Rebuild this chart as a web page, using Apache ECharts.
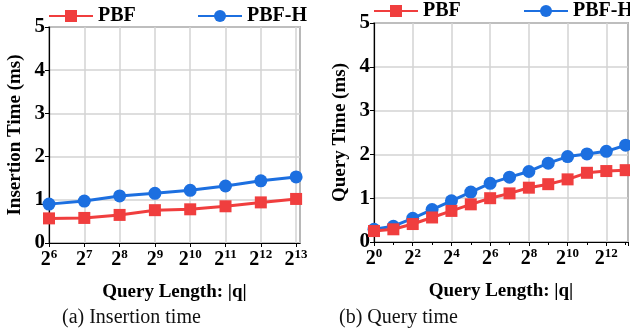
<!DOCTYPE html>
<html>
<head>
<meta charset="utf-8">
<script src="https://cdn.jsdelivr.net/npm/echarts@6/dist/echarts.min.js"></script>
<style>html,body{margin:0;padding:0;background:#fff}#c{width:630px;height:335px}</style>
</head>
<body>
<div id="c"></div>
<script>
// Left chart: insertion time
const insExp = [6, 7, 8, 9, 10, 11, 12, 13];
const insPBF = [0.57, 0.58, 0.65, 0.76, 0.78, 0.85, 0.94, 1.02];
const insPBFH = [0.90, 0.97, 1.09, 1.15, 1.22, 1.32, 1.44, 1.53];
// Right chart: query time
const qExp = [0, 1, 2, 3, 4, 5, 6, 7, 8, 9, 10, 11, 12, 13];
const qPBF = [0.25, 0.29, 0.41, 0.56, 0.71, 0.86, 1.00, 1.11, 1.24, 1.32, 1.43, 1.58, 1.62, 1.64];
const qPBFH = [0.29, 0.36, 0.54, 0.74, 0.94, 1.14, 1.34, 1.48, 1.61, 1.80, 1.95, 2.01, 2.07, 2.21];
const yTicks = [0, 1, 2, 3, 4, 5];
const names = ['PBF', 'PBF-H'];
const captions = ['(a) Insertion time', '(b) Query time'];
const yNames = ['Insertion Time (ms)', 'Query Time (ms)'];
const xName = 'Query Length: |q|';

const RED = '#f03e3e', BLUE = '#1c6fe0';
const FONT = 'Liberation Serif';
const zip = (xs, ys) => xs.map((x, i) => [x, ys[i]]);

const chart = echarts.init(document.getElementById('c'));
const xLabel = v => Number.isInteger(v) ? '{b|2}{s|' + v + '}' : '';
const rich = {
  b: {fontFamily: FONT, fontWeight: 'bold', fontSize: 20, color: '#000', lineHeight: 22, verticalAlign: 'bottom'},
  s: {fontFamily: FONT, fontWeight: 'bold', fontSize: 13, color: '#000', lineHeight: 22, verticalAlign: 'top', padding: [0, 0, 6, 0]}
};
function xAxis(idx, min, max, interval, minor) {
  return {
    type: 'value', gridIndex: idx, min: min, max: max, interval: interval,
    name: xName, nameLocation: 'middle', nameGap: 40,
    nameTextStyle: {fontFamily: FONT, fontWeight: 'bold', fontSize: 19, color: '#000'},
    axisLine: {lineStyle: {color: '#000', width: 1.2}},
    axisTick: {show: true, length: 4, lineStyle: {color: '#000'}},
    minorTick: {show: minor, splitNumber: 2, length: 3, lineStyle: {color: '#000'}},
    axisLabel: {formatter: xLabel, rich: rich, margin: 5, showMaxLabel: false},
    splitLine: {show: true, lineStyle: {color: '#d3d3d3', width: 1.5}}
  };
}
function yAxis(idx) {
  return {
    type: 'value', gridIndex: idx, min: yTicks[0], max: yTicks[yTicks.length - 1], interval: 1,
    name: yNames[idx], nameLocation: 'middle', nameGap: 24, nameRotate: 90,
    nameTextStyle: {fontFamily: FONT, fontWeight: 'bold', fontSize: 19, color: '#000'},
    axisLine: {show: true, lineStyle: {color: '#000', width: 1.2}},
    axisTick: {show: true, length: 4, lineStyle: {color: '#000'}},
    axisLabel: {fontFamily: FONT, fontWeight: 'bold', fontSize: 21, color: '#000', margin: 4},
    splitLine: {show: true, lineStyle: {color: '#d3d3d3', width: 1.5}}
  };
}
function series(name, idx, data) {
  const red = name === 'PBF';
  return {
    name: name, type: 'line', xAxisIndex: idx, yAxisIndex: idx, data: data,
    symbol: red ? 'rect' : 'circle', symbolSize: red ? 12 : 13,
    lineStyle: {width: 3, color: red ? RED : BLUE},
    itemStyle: {color: red ? RED : BLUE},
    z: red ? 3 : 2, clip: false, animation: false
  };
}
const legendText = {fontFamily: FONT, fontWeight: 'bold', fontSize: 20, color: '#000', padding: [2, 0, 0, 0]};
function legend(name, left, top) {
  return {data: [name], left: left, top: top, itemWidth: 44, itemHeight: 15, textStyle: legendText, padding: 0};
}
chart.setOption({
  animation: false,
  grid: [
    {left: 49, top: 27, width: 251, height: 216, show: true, borderColor: '#000', borderWidth: 1.2},
    {left: 374, top: 23, width: 254, height: 219, show: true, borderColor: '#000', borderWidth: 1.2}
  ],
  legend: [
    legend(names[0], 48, 6), legend(names[1], 197, 6),
    legend(names[0], 373, 1), legend(names[1], 523, 1)
  ],
  xAxis: [xAxis(0, 6, 13.11, 1, false), xAxis(1, 0, 13.12, 2, true)],
  yAxis: [yAxis(0), yAxis(1)],
  series: [
    series(names[0], 0, zip(insExp, insPBF)),
    series(names[1], 0, zip(insExp, insPBFH)),
    series(names[0], 1, zip(qExp, qPBF)),
    series(names[1], 1, zip(qExp, qPBFH))
  ],
  graphic: [
    {type: 'text', left: 62, top: 308, style: {text: captions[0], fontFamily: FONT, fontSize: 20, fill: '#111'}},
    {type: 'text', left: 339, top: 308, style: {text: captions[1], fontFamily: FONT, fontSize: 20, fill: '#111'}}
  ]
});
</script>
</body>
</html>
